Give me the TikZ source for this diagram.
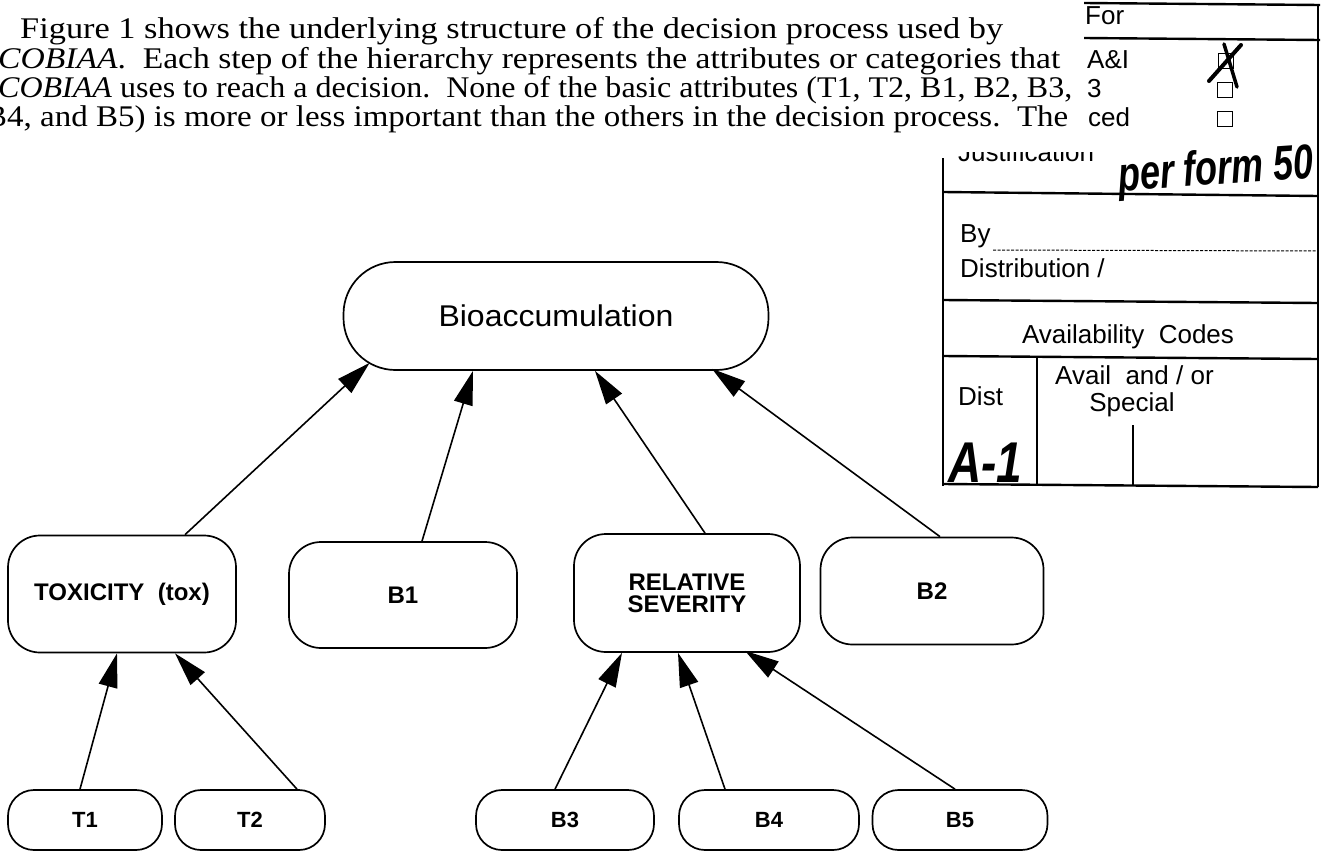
\documentclass[tikz,border=0pt]{standalone}
\usepackage{fontspec}
\setmainfont{Liberation Serif}
\setsansfont{Liberation Sans}
\usetikzlibrary{arrows.meta,calc}
\tikzset{
  gbox/.style={draw, line width=1.7pt, rounded corners=#1, inner sep=0pt, align=center,
    font=\sffamily\bfseries\fontsize{24}{22}\selectfont},
  gbox/.default=32pt,
  sbox/.style={gbox=26pt, minimum height=60pt, font=\sffamily\bfseries\fontsize{22}{22}\selectfont},
  arr/.style={line width=1.6pt, -{Triangle[length=34pt,width=19pt]}},
  ptxt/.style={anchor=base west, inner sep=0pt, font=\fontsize{30}{30}\selectfont},
  ftxt/.style={anchor=base west, inner sep=0pt, font=\sffamily\fontsize{26}{26}\selectfont},
  fline/.style={line width=2.4pt},
  hand/.style={inner sep=0pt, font=\sffamily\bfseries\itshape},
  cbox/.style={draw, line width=1.5pt, minimum size=15pt, inner sep=0pt},
}
\begin{document}
\begin{tikzpicture}[x=1pt,y=-1pt]
\useasboundingbox (0,0) rectangle (1327,851);
\fill[white] (0,0) rectangle (1327,851);
\clip (0,0) rectangle (1327,851);

% paragraph
\node[ptxt] (p1) at (20,39) {\resizebox{983pt}{\height}{Figure 1 shows the underlying structure of the decision process used by}};
\node[ptxt] (p2) at (-2,68) {\resizebox{1062pt}{\height}{\textit{COBIAA}.\ \ Each step of the hierarchy represents the attributes or categories that}};
\node[ptxt] (p3) at (-2,97) {\resizebox{1074pt}{\height}{\textit{COBIAA} uses to reach a decision.\ \ None of the basic attributes (T1, T2, B1, B2, B3,}};
\begin{scope}
  \clip (0,100) rectangle (20,135);
  \node[ptxt, anchor=base east] (p4b) at (7,126) {B};
\end{scope}
\node[ptxt] (p4) at (7,126) {\resizebox{1061pt}{\height}{4, and B5) is more or less important than the others in the decision process.\ \ The}};

% form stamp
\draw[fline] (1084,3) -- (1320,5);
\draw[fline] (1084,38) -- (1320,40);
\draw[fline] (1318,4) -- (1318,487);
\draw[fline] (943,158) -- (943,486);
\draw[fline] (943,192) -- (1318,196);
\draw[fline] (943,300) -- (1318,303);
\draw[fline] (943,356) -- (1318,359);
\draw[fline] (943,484) -- (1318,487);
\draw[fline] (1037,357) -- (1037,485);
\draw[fline] (1133,425) -- (1133,486);
\draw[line width=1pt, dash pattern=on 3pt off 1.5pt] (993,250) -- (1317,251);

\node[ftxt] (ffor) at (1085,25) {For};
\node[ftxt] (fai) at (1087,68) {A\&I};
\node[ftxt] (f3) at (1087,97) {3};
\node[ftxt] (fced) at (1088,126) {ced};
\node[cbox] (c1) at (1226,61) {};
\node[cbox] (c2) at (1225,90) {};
\node[cbox] (c3) at (1225,119) {};
\draw[line width=4pt, line cap=round] (1209,81) -- (1241,45);
\draw[line width=3.5pt, line cap=round] (1224,44) -- (1237,87);
\begin{scope}
  \clip (940,152) rectangle (1112,170);
  \node[ftxt] (fjust) at (958,161) {Justification};
\end{scope}
\node[hand, rotate=4, font=\sffamily\bfseries\itshape\fontsize{36}{36}\selectfont] (fhand) at (1216,172) {\scalebox{1}[1.35]{per form 50}};
\node[ftxt] (fby) at (960,242) {By};
\node[ftxt] (fdist) at (960,277) {Distribution /};
\node[ftxt, anchor=base] (favc) at (1128,343) {Availability\ \ Codes};
\node[ftxt] (fdst) at (958,405) {Dist};
\node[ftxt] (fav) at (1055,384) {Avail\ \ and / or};
\node[ftxt, anchor=base] (fsp) at (1132,411) {Special};
\node[hand, anchor=base west, font=\sffamily\bfseries\itshape\fontsize{46}{46}\selectfont] (fa1) at (948,482) {\scalebox{1}[1.25]{A-1}};

% diagram nodes
\node[gbox=52pt, minimum width=425pt, minimum height=108pt, font=\sffamily\fontsize{30}{30}\selectfont] (bio) at (556,316) {\resizebox{235pt}{\height}{Bioaccumulation}};
\node[gbox, minimum width=228pt, minimum height=117pt] (tox) at (122,594) {TOXICITY\ \ (tox)};
\node[gbox, minimum width=228pt, minimum height=106pt] (b1) at (403,595) {B1};
\node[gbox, minimum width=226pt, minimum height=118pt] (rs) at (687,593) {RELATIVE\\SEVERITY};
\node[gbox, minimum width=223pt, minimum height=107pt] (b2) at (932,591) {B2};
\node[sbox, minimum width=154pt] (t1) at (85,820) {T1};
\node[sbox, minimum width=150pt] (t2) at (250,820) {T2};
\node[sbox, minimum width=178pt] (b3) at (565,820) {B3};
\node[sbox, minimum width=180pt] (b4) at (769,820) {B4};
\node[sbox, minimum width=175pt] (b5) at (960,820) {B5};

% connectors
\draw[arr] ($(tox.north)+(63,0)$) -- ($(bio.south west)+(27,-8)$);
\draw[arr] ($(b1.north)+(19,0)$) -- ($(bio.south)+(-83,0)$);
\draw[arr] ($(rs.north)+(18,0)$) -- ($(bio.south)+(39,0)$);
\draw[arr] ($(b2.north)+(8,0)$) -- ($(bio.south)+(156,-2)$);
\draw[arr] ($(t1.north)+(-5,0)$) -- ($(tox.south)+(-5,0)$);
\draw[arr] ($(t2.north)+(47,0)$) -- ($(tox.south)+(53,0)$);
\draw[arr] ($(b3.north)+(-10,0)$) -- ($(rs.south)+(-65,0)$);
\draw[arr] ($(b4.north)+(-44,0)$) -- ($(rs.south)+(-9,0)$);
\draw[arr] ($(b5.north)+(-5,0)$) -- ($(rs.south)+(58,-2)$);
\end{tikzpicture}
\end{document}
